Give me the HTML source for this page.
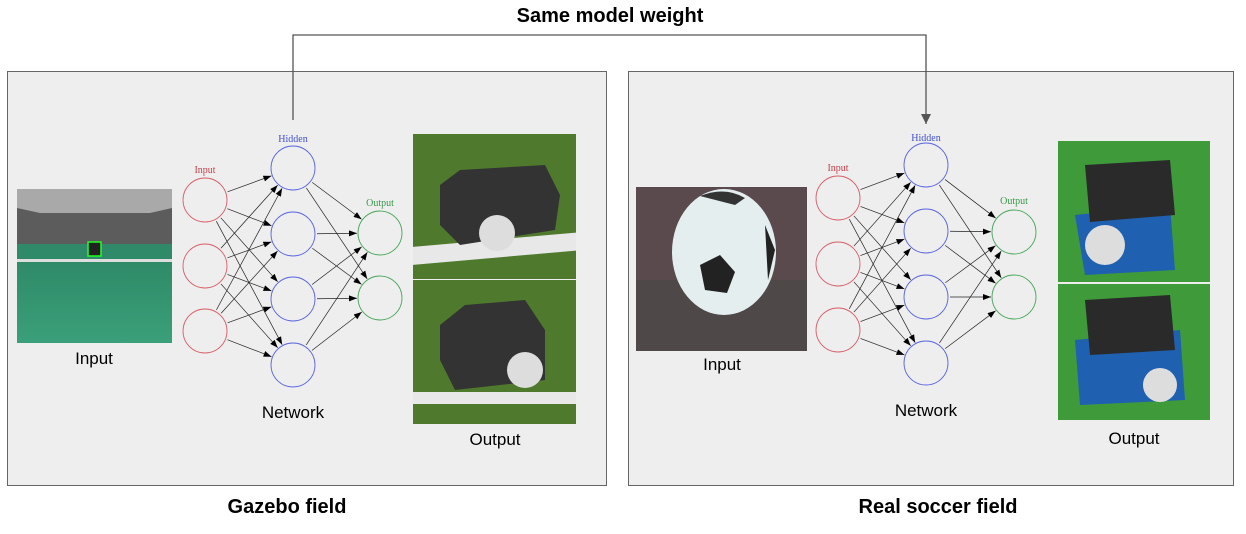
<!DOCTYPE html>
<html><head><meta charset="utf-8"><style>
body{margin:0;background:#fff;width:1246px;height:534px;overflow:hidden}
svg{display:block}
.t{font-family:"Liberation Sans",sans-serif}
.s{font-family:"Liberation Serif",serif;font-size:10px}
</style></head><body>
<svg id="s" width="1246" height="534" xmlns="http://www.w3.org/2000/svg">
<defs>
<marker id="a" markerWidth="8" markerHeight="6" refX="8" refY="3" orient="auto" markerUnits="userSpaceOnUse"><path d="M0,0 L8,3 L0,6z" fill="#000"/></marker>
<marker id="b" markerWidth="10" markerHeight="10" refX="5" refY="10" orient="0" markerUnits="userSpaceOnUse"><path d="M0,0 L10,0 L5,10z" fill="#555"/></marker>
<linearGradient id="g1" x1="0" y1="0" x2="0" y2="1"><stop offset="0" stop-color="#2f8a68"/><stop offset="1" stop-color="#3aa07a"/></linearGradient>
</defs>
<rect x="7.5" y="71.5" width="599" height="414" fill="#eeeeee" stroke="#666"/>
<rect x="628.5" y="71.5" width="605" height="414" fill="#eeeeee" stroke="#666"/>
<text x="610" y="22" text-anchor="middle" class="t" font-size="20" font-weight="bold">Same model weight</text>
<path d="M293,120 V35 H926 V124" fill="none" stroke="#555" stroke-width="1.3" marker-end="url(#b)"/>
<!-- left input image -->
<rect x="17" y="189" width="155" height="31" fill="#a9a9a9"/>
<polygon points="17,208 40,213 150,213 172,208 172,246 17,246" fill="#5c5c5c"/>
<rect x="17" y="244" width="155" height="17" fill="#2e8a68"/>
<rect x="17" y="259" width="155" height="3" fill="#ddd"/>
<rect x="17" y="262" width="155" height="81" fill="url(#g1)"/>
<rect x="88" y="242" width="13" height="14" fill="#222" stroke="#2f2" stroke-width="1.5"/>
<text x="94" y="364" text-anchor="middle" class="t" font-size="17">Input</text>
<!-- left output images -->
<rect x="413" y="134" width="163" height="145" fill="#4f7a2e"/>
<rect x="413" y="245" width="163" height="18" fill="#e8e8e8" transform="skewY(-5) translate(0,38)"/>
<path d="M440,185 L460,170 L545,165 L560,195 L555,230 L460,245 L440,225z" fill="#333"/>
<circle cx="497" cy="233" r="18" fill="#ddd"/>
<rect x="413" y="280" width="163" height="144" fill="#4f7a2e"/>
<rect x="413" y="392" width="163" height="12" fill="#e8e8e8"/>
<path d="M440,325 L465,305 L525,300 L545,330 L545,380 L455,390 L440,360z" fill="#333"/>
<circle cx="525" cy="370" r="18" fill="#ddd"/>
<text x="293" y="418" text-anchor="middle" class="t" font-size="17">Network</text>
<text x="495" y="445" text-anchor="middle" class="t" font-size="17">Output</text>
<!-- right input image -->
<rect x="636" y="187" width="171" height="164" fill="#5a4a4e"/>
<rect x="636" y="280" width="171" height="71" fill="#4e4848"/>
<ellipse cx="724" cy="252" rx="52" ry="63" fill="#e4eeef"/>
<polygon points="700,265 720,255 735,272 727,293 705,290" fill="#222"/>
<polygon points="765,225 775,250 768,280" fill="#222"/>
<path d="M700,196 Q725,186 745,198 L735,205 Z" fill="#333"/>
<text x="722" y="370" text-anchor="middle" class="t" font-size="17">Input</text>
<!-- right output images -->
<rect x="1058" y="141" width="152" height="141" fill="#3f9a3a"/>
<path d="M1075,215 L1170,205 L1175,270 L1085,275z" fill="#2060b0"/>
<path d="M1085,165 L1170,160 L1175,215 L1090,222z" fill="#2a2a2a"/>
<circle cx="1105" cy="245" r="20" fill="#ddd"/>
<rect x="1058" y="284" width="152" height="136" fill="#3f9a3a"/>
<path d="M1075,340 L1180,330 L1185,400 L1080,405z" fill="#2060b0"/>
<path d="M1085,300 L1170,295 L1175,350 L1090,355z" fill="#2a2a2a"/>
<circle cx="1160" cy="385" r="17" fill="#ddd"/>
<text x="926" y="416" text-anchor="middle" class="t" font-size="17">Network</text>
<text x="1134" y="444" text-anchor="middle" class="t" font-size="17">Output</text>
<text x="287" y="513" text-anchor="middle" class="t" font-size="20" font-weight="bold">Gazebo field</text>
<text x="938" y="513" text-anchor="middle" class="t" font-size="20" font-weight="bold">Real soccer field</text>
<g id="nets"></g>
</svg>
<script>
var g=document.getElementById('nets'),ns='http://www.w3.org/2000/svg';
function el(t,a,txt){var e=document.createElementNS(ns,t);for(var k in a)e.setAttribute(k,a[k]);if(txt)e.textContent=txt;g.appendChild(e);return e;}
function net(ix,hx,ox,iy,hy,oy,lab){
 var r=22;
 function L(x1,y1,x2,y2){var dx=x2-x1,dy=y2-y1,d=Math.hypot(dx,dy),ux=dx/d,uy=dy/d;
  el('line',{x1:x1+ux*(r+2),y1:y1+uy*(r+2),x2:x2-ux*(r+1),y2:y2-uy*(r+1),stroke:'#222','stroke-width':0.7,'marker-end':'url(#a)'});}
 iy.forEach(function(a){hy.forEach(function(b){L(ix,a,hx,b);});});
 hy.forEach(function(a){oy.forEach(function(b){L(hx,a,ox,b);});});
 iy.forEach(function(y){el('circle',{cx:ix,cy:y,r:r,fill:'none',stroke:'#d9606a','stroke-width':0.9});});
 hy.forEach(function(y){el('circle',{cx:hx,cy:y,r:r,fill:'none',stroke:'#5a66e0','stroke-width':0.9});});
 oy.forEach(function(y){el('circle',{cx:ox,cy:y,r:r,fill:'none',stroke:'#4aa85a','stroke-width':0.9});});
 el('text',{x:ix,y:lab[0],'text-anchor':'middle','class':'s',fill:'#c8404a'},'Input');
 el('text',{x:hx,y:lab[1],'text-anchor':'middle','class':'s',fill:'#4050d0'},'Hidden');
 el('text',{x:ox,y:lab[2],'text-anchor':'middle','class':'s',fill:'#3a9a4a'},'Output');
}
net(205,293,380,[200,266,331],[168,234,299,365],[233,298],[173,142,206]);
net(838,926,1014,[198,264,330],[165,231,297,363],[232,297],[171,141,204]);
</script>
</body></html>
